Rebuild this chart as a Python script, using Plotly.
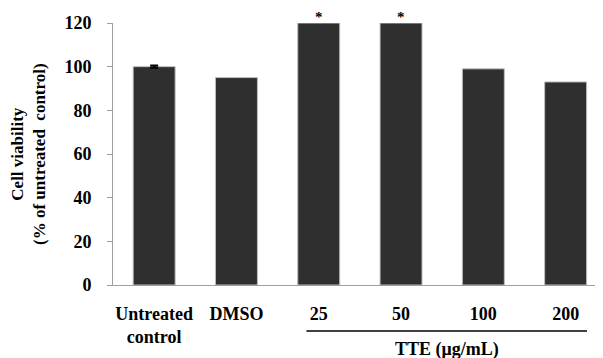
import plotly.graph_objects as go

categories = ["Untreated<br>control", "DMSO", "25", "50", "100", "200"]
values = [100, 95, 120, 120, 99, 93]
control_error = 0.5
sig_idx = [2, 3]
y_ticks = [0, 20, 40, 60, 80, 100, 120]

FONT = "Liberation Serif"

fig = go.Figure()
fig.add_trace(go.Bar(
    x=list(range(len(categories))), y=values,
    width=0.51,
    marker=dict(color="#2f2f2f", line=dict(color="#bdbdbd", width=1)),
))
fig.add_trace(go.Scatter(
    x=[0], y=[values[0]], mode="markers", marker=dict(size=1, color="rgba(0,0,0,0)"),
    error_y=dict(type="data", array=[control_error], visible=True, color="#000000", thickness=2, width=4),
    hoverinfo="skip",
))

for i in sig_idx:
    fig.add_annotation(x=i, xref="x", yref="paper", y=1.0573, text="<b>*</b>", showarrow=False,
                       yanchor="top", borderpad=0, font=dict(family=FONT, size=15, color="#000"))

# TTE group line and label
fig.add_shape(type="line", xref="x", yref="paper", x0=1.85, x1=5.26, y0=-0.1756, y1=-0.1756,
              line=dict(color="#000", width=1.3))
fig.add_annotation(xref="x", yref="paper", x=3.555, y=-0.248, text="<b>TTE (μg/mL)</b>",
                   showarrow=False, yanchor="middle", font=dict(family=FONT, size=18, color="#000"))

# Y-axis title
fig.add_annotation(xref="paper", yref="paper", x=-0.1735, y=0.5, textangle=-90,
                   text="<b>Cell viability<br>(% of untreated&nbsp; control)</b>",
                   showarrow=False, xanchor="center", yanchor="middle",
                   font=dict(family=FONT, size=17, color="#000"))

# page body has an 8px margin, so the figure is shrunk by 8px to fill the window
fig.update_layout(
    width=595, height=350,
    margin=dict(l=105, r=0, t=15, b=73),
    plot_bgcolor="white", paper_bgcolor="white",
    showlegend=False,
    font=dict(family=FONT, size=18, color="#000"),
    xaxis=dict(
        range=[-0.5, 5.454], automargin=False,
        tickmode="array", tickvals=list(range(len(categories))),
        ticktext=["<b>" + c + "</b>" for c in categories],
        showline=True, linecolor="#a0a0a0", linewidth=1, ticks="",
        ticklabelstandoff=12,
        showgrid=False, zeroline=False,
    ),
    yaxis=dict(
        range=[0, 120], tickvals=y_ticks, automargin=False,
        ticktext=["<b>%d</b>" % v for v in y_ticks],
        showline=True, linecolor="#a0a0a0", linewidth=1,
        ticks="outside", ticklen=5, tickcolor="#a0a0a0",
        ticklabelstandoff=12,
        showgrid=False, zeroline=False,
    ),
)

fig.write_html("out.html")
